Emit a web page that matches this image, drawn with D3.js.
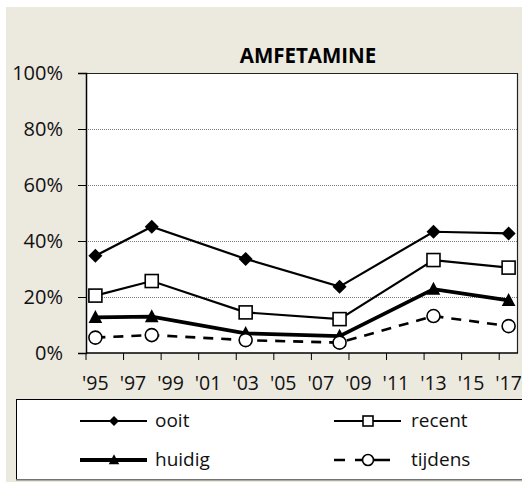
<!DOCTYPE html>
<html>
<head>
<meta charset="utf-8">
<script src="https://cdn.jsdelivr.net/npm/d3@7"></script>
<style>
  html, body { margin: 0; padding: 0; background: #fff; }
  svg { display: block; font-family: "Open Sans", "Noto Sans", sans-serif; }
</style>
</head>
<body>
<svg id="chart" width="522" height="482"></svg>
<script>
// Survey years and prevalence (%) per series
const years = [1995, 1998, 2003, 2008, 2013, 2017];
const ooit    = [34.7, 45.1, 33.6, 23.7, 43.3, 42.7];
const recent  = [20.5, 25.7, 14.5, 12.1, 33.2, 30.5];
const huidig  = [12.7, 13.0, 7.0, 6.0, 22.8, 18.8];
const tijdens = [5.5, 6.4, 4.6, 3.7, 13.2, 9.6];
const yTicks = [0, 20, 40, 60, 80, 100];
const axisYears = d3.range(1995, 2018); // one category per year
const labelYears = d3.range(1995, 2018, 2);

const svg = d3.select("#chart");
const W = 522, H = 482;
const plot = { left: 86, right: 518, top: 73, bottom: 353 };

// Frame background
svg.append("rect").attr("x", 6).attr("y", 7).attr("width", W - 6).attr("height", H - 7)
  .attr("fill", "#ECE9DF");

const x = d3.scaleBand().domain(axisYears).range([plot.left, plot.right]);
const y = d3.scaleLinear().domain([0, 100]).range([plot.bottom, plot.top]);
const cx = yr => x(yr) + x.bandwidth() / 2;

// Plot area
svg.append("rect")
  .attr("x", plot.left).attr("y", plot.top)
  .attr("width", plot.right - plot.left).attr("height", plot.bottom - plot.top)
  .attr("fill", "#fff");

// Gridlines
svg.append("g").selectAll("line").data(yTicks.filter(t => t > 0 && t < 100)).join("line")
  .attr("x1", plot.left).attr("x2", plot.right)
  .attr("y1", d => y(d)).attr("y2", d => y(d))
  .attr("stroke", "#808080").attr("stroke-width", 1).attr("stroke-dasharray", "1,1")
  .attr("shape-rendering", "crispEdges");

// Plot border (top and right)
svg.append("path")
  .attr("d", `M${plot.left},${plot.top + 0.5}H${plot.right - 0.5}V${plot.bottom}`)
  .attr("fill", "none").attr("stroke", "#222").attr("stroke-width", 1.2);

// Y axis
const yAxis = d3.axisLeft(y).tickValues(yTicks).tickSize(8).tickPadding(15)
  .tickFormat(d => d + "%");
const gy = svg.append("g").attr("transform", `translate(${plot.left},0)`).call(yAxis);
gy.select(".domain").attr("stroke", "#000").attr("stroke-width", 1.5);
gy.selectAll(".tick line").attr("stroke", "#000");
gy.selectAll(".tick text").attr("font-size", 20).attr("fill", "#111")
  .attr("font-family", "'Open Sans', sans-serif");

// X axis: tick marks at the start of each odd year, labels centred on the year
const gx = svg.append("g").attr("transform", `translate(0,${plot.bottom})`);
gx.append("line").attr("x1", plot.left).attr("x2", plot.right).attr("y1", 0).attr("y2", 0)
  .attr("stroke", "#000").attr("stroke-width", 1.5);
gx.selectAll("line.tk").data(labelYears).join("line").attr("class", "tk")
  .attr("x1", d => x(d)).attr("x2", d => x(d)).attr("y1", 0).attr("y2", 7)
  .attr("stroke", "#000").attr("stroke-width", 1);
gx.selectAll("text").data(labelYears).join("text")
  .attr("x", d => cx(d)).attr("y", 37)
  .attr("text-anchor", "middle").attr("font-size", 19.5).attr("fill", "#111")
  .text(d => "'" + String(d).slice(2));

// Title
svg.append("text").attr("x", 308).attr("y", 63).attr("text-anchor", "middle")
  .attr("font-size", 20.5).attr("font-weight", "bold").attr("fill", "#000")
  .text("AMFETAMINE");

// Series definitions
const series = [
  { name: "ooit",    values: ooit,    width: 2.2, dash: null,   marker: "diamond" },
  { name: "recent",  values: recent,  width: 2.2, dash: null,   marker: "square" },
  { name: "huidig",  values: huidig,  width: 3.8, dash: null,   marker: "triangle" },
  { name: "tijdens", values: tijdens, width: 2.6, dash: "10,8", marker: "circle" }
];

function drawMarker(g, type, px, py, s) {
  if (type === "diamond") {
    g.append("path").attr("d", `M${px},${py - s}L${px + s},${py}L${px},${py + s}L${px - s},${py}Z`)
      .attr("fill", "#000");
  } else if (type === "square") {
    g.append("rect").attr("x", px - s).attr("y", py - s).attr("width", 2 * s).attr("height", 2 * s)
      .attr("fill", "#fff").attr("stroke", "#000").attr("stroke-width", 1.6);
  } else if (type === "triangle") {
    g.append("path").attr("d", `M${px},${py - s * 1.15}L${px + s * 1.05},${py + s * 0.85}L${px - s * 1.05},${py + s * 0.85}Z`)
      .attr("fill", "#000");
  } else {
    g.append("circle").attr("cx", px).attr("cy", py).attr("r", s)
      .attr("fill", "#fff").attr("stroke", "#000").attr("stroke-width", 1.6);
  }
}

const line = d3.line().x(d => cx(d.year)).y(d => y(d.v));
series.forEach(s => {
  const pts = years.map((yr, i) => ({ year: yr, v: s.values[i] }));
  const g = svg.append("g");
  g.append("path").datum(pts).attr("d", line)
    .attr("fill", "none").attr("stroke", "#000").attr("stroke-width", s.width)
    .attr("stroke-dasharray", s.dash);
  pts.forEach(p => drawMarker(g, s.marker, cx(p.year), y(p.v), s.marker === "diamond" ? 7 : 6.5));
});

// Legend
const lg = svg.append("g");
lg.append("rect").attr("x", 16.5).attr("y", 399.5).attr("width", 520).attr("height", 80)
  .attr("fill", "#fff").attr("stroke", "#000").attr("stroke-width", 1);
lg.append("line").attr("x1", 16).attr("x2", 522).attr("y1", 480).attr("y2", 480)
  .attr("stroke", "#999").attr("stroke-width", 1.5);
const legendPos = [
  { x: 80, y: 421 }, { x: 334, y: 421 }, { x: 80, y: 460 }, { x: 334, y: 460 }
];
series.forEach((s, i) => {
  const p = legendPos[i];
  lg.append("line").attr("x1", p.x).attr("x2", p.x + (s.dash ? 56 : 67)).attr("y1", p.y).attr("y2", p.y)
    .attr("stroke", "#000").attr("stroke-width", s.width)
    .attr("stroke-dasharray", s.dash ? "11,10,45" : null);
  drawMarker(lg, s.marker, p.x + 34, p.y, s.marker === "circle" ? 5.5 : 5);
  lg.append("text").attr("x", p.x + (i % 2 ? 77 : 75)).attr("y", p.y + 6)
    .attr("font-size", 19).attr("fill", "#111").text(s.name);
});
</script>
</body>
</html>
